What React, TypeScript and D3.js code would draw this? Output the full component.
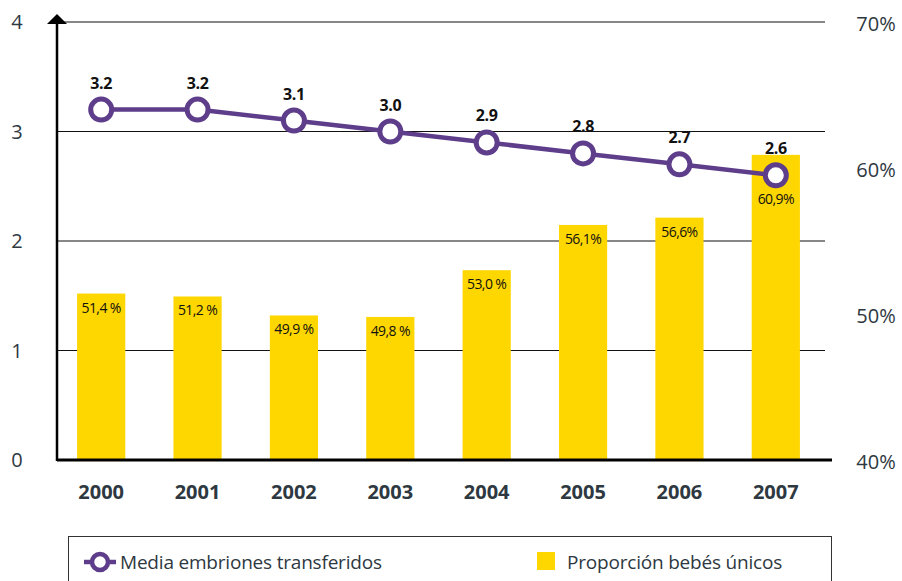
import React from "react";
import * as d3 from "d3";

const years = ["2000", "2001", "2002", "2003", "2004", "2005", "2006", "2007"];
const embryos = [3.2, 3.2, 3.1, 3.0, 2.9, 2.8, 2.7, 2.6];
const embryoLabels = ["3.2", "3.2", "3.1", "3.0", "2.9", "2.8", "2.7", "2.6"];
const singles = [51.4, 51.2, 49.9, 49.8, 53.0, 56.1, 56.6, 60.9];
const singleLabels = ["51,4 %", "51,2 %", "49,9 %", "49,8 %", "53,0 %", "56,1%", "56,6%", "60,9%"];
const leftTicks = [0, 1, 2, 3, 4];
const rightTicks = [40, 50, 60, 70];
const legendLabels = ["Media embriones transferidos", "Proporción bebés únicos"];

const W = 902;
const H = 581;
const PURPLE = "#5e3d8b";
const YELLOW = "#fed600";
const TEXT = "#2e3841";
const FONT = "'Open Sans', 'Noto Sans', sans-serif";

export default function App() {
  const x = d3.scaleBand<string>().domain(years).range([53, 824]).paddingInner(0.5).paddingOuter(0.25);
  const yL = d3.scaleLinear().domain([0, 4]).range([460, 22]);
  const yR = d3.scaleLinear().domain([40, 70]).range([460, 22]);
  const cx = (d: string) => (x(d) as number) + x.bandwidth() / 2;
  const line = d3.line<number>().x((_, i) => cx(years[i])).y((d) => yL(d));

  return (
    <svg width={W} height={H} style={{ position: "absolute", left: 0, top: 0, fontFamily: FONT }}>
      {leftTicks.slice(1).map((t) => (
        <line key={t} x1={57} x2={825} y1={yL(t)} y2={yL(t)} stroke="#111" strokeWidth={1} />
      ))}
      {singles.map((v, i) => (
        <rect key={i} x={x(years[i])} y={yR(v)} width={x.bandwidth()} height={yR(40) - yR(v)} fill={YELLOW} />
      ))}
      {singles.map((v, i) => {
        const ty = Math.max(yR(v) + 19, yL(embryos[i]) + 29);
        return (
          <text key={i} x={cx(years[i])} y={ty} textAnchor="middle" fontSize={14} fontWeight={500} fill="#111" style={{ letterSpacing: "-0.6px" }}>
            {singleLabels[i]}
          </text>
        );
      })}
      <line x1={57} x2={832} y1={460} y2={460} stroke="#000" strokeWidth={3} />
      <line x1={57} x2={57} y1={461} y2={24} stroke="#000" strokeWidth={2.5} />
      <path d="M47,24 L57,14 L67,24 Z" fill="#000" />
      {leftTicks.map((t) => (
        <text key={t} x={17} y={yL(t)} dy="0.35em" textAnchor="middle" fontSize={20} fill={TEXT}>
          {t}
        </text>
      ))}
      {rightTicks.map((t) => (
        <text key={t} x={876} y={yR(t) + 2} dy="0.35em" textAnchor="middle" fontSize={20} fill={TEXT}>
          {t}%
        </text>
      ))}
      {years.map((yr) => (
        <text key={yr} x={cx(yr)} y={492} dy="0.35em" textAnchor="middle" fontSize={20} fontWeight={700} fill={TEXT}>
          {yr}
        </text>
      ))}
      <path d={line(embryos) as string} fill="none" stroke={PURPLE} strokeWidth={4.5} />
      {embryos.map((v, i) => (
        <circle key={i} cx={cx(years[i])} cy={yL(v)} r={10.5} fill="#fff" stroke={PURPLE} strokeWidth={5} />
      ))}
      {embryos.map((v, i) => (
        <text key={i} x={cx(years[i])} y={yL(v) - 21} textAnchor="middle" fontSize={16} fontWeight={700} fill="#111" style={{ letterSpacing: "-0.4px" }}>
          {embryoLabels[i]}
        </text>
      ))}
      <rect x={68.5} y={536.5} width={763} height={60} fill="#fff" stroke="#333" strokeWidth={1} />
      <line x1={84} x2={116} y1={562} y2={562} stroke={PURPLE} strokeWidth={4.5} />
      <circle cx={100} cy={562} r={8} fill="#fff" stroke={PURPLE} strokeWidth={4.5} />
      <text x={120} y={562} dy="0.35em" fontSize={19} fill={TEXT} style={{ letterSpacing: "-0.2px" }}>
        {legendLabels[0]}
      </text>
      <rect x={537} y={552} width={18} height={18} fill={YELLOW} />
      <text x={567} y={562} dy="0.35em" fontSize={19} fill={TEXT} style={{ letterSpacing: "-0.2px" }}>
        {legendLabels[1]}
      </text>
    </svg>
  );
}
